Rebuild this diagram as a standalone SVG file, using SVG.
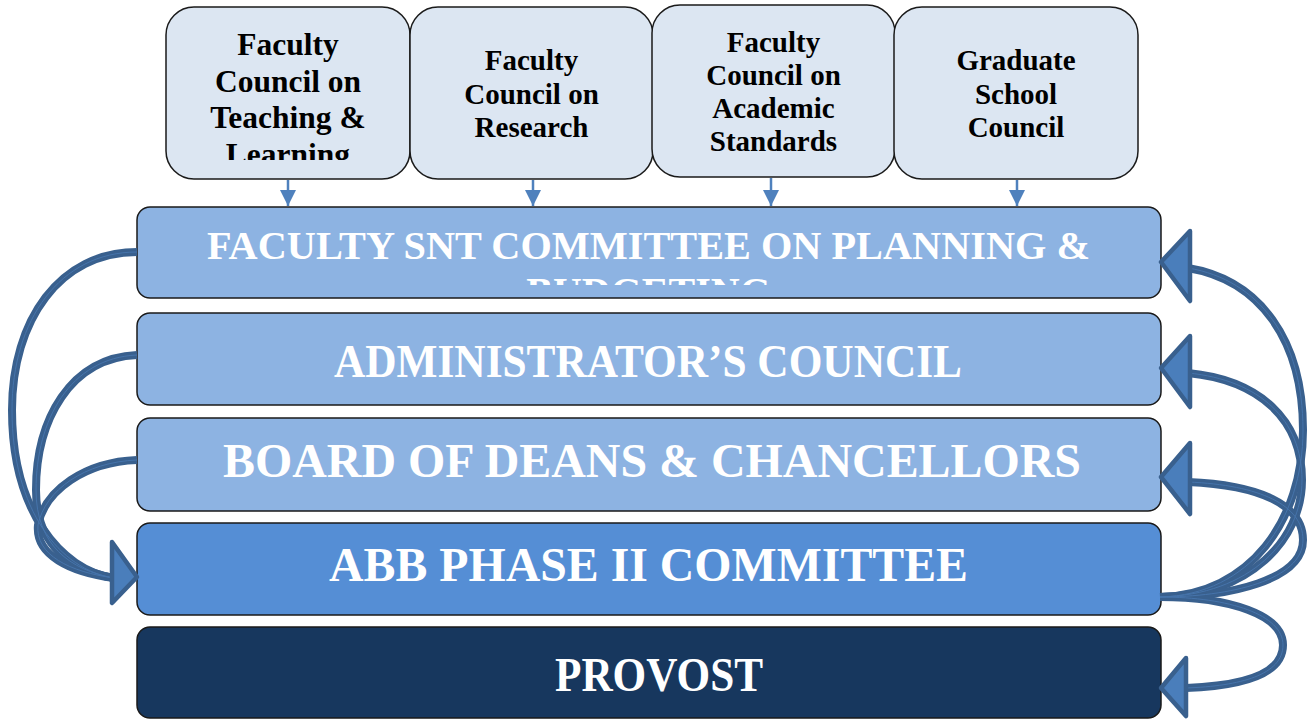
<svg xmlns="http://www.w3.org/2000/svg" width="1313" height="721" viewBox="0 0 1313 721">
  <defs>
    <style>
      .council rect { fill: #dce6f2; stroke: #1a1a1a; stroke-width: 1.5; }
      .council text { font-family: "Liberation Serif", "Times New Roman", serif; font-weight: bold; fill: #000; text-anchor: middle; }
      .bar rect { stroke: #1a1a1a; stroke-width: 1.5; }
      .bar text { font-family: "Liberation Serif", "Times New Roman", serif; font-weight: bold; fill: #fff; text-anchor: middle; }
      .light { fill: #8db3e2; }
      .mid { fill: #558ed5; }
      .dark { fill: #17375e; }
      .feed { stroke: #4f81bd; stroke-width: 2.5; fill: none; }
      .shaft { stroke: #39608e; stroke-width: 8; fill: none; stroke-linecap: butt; }
      .shaft-in { stroke: #4674ab; stroke-width: 1; fill: none; }
      .head { fill: #4a7ebb; stroke: #39608e; stroke-width: 4.5; stroke-linejoin: round; }
    </style>
    <marker id="tip" viewBox="0 0 10 10" refX="10" refY="5" markerWidth="6.5" markerHeight="6.5" markerUnits="strokeWidth" orient="auto">
      <path d="M0,0 L10,5 L0,10 Z" fill="#4f81bd"/>
    </marker>
    <clipPath id="clipTL"><rect x="166" y="0" width="244" height="160"/></clipPath>
    <clipPath id="clipPB"><rect x="137" y="200" width="1024" height="85"/></clipPath>
  </defs>

  <!-- councils feeding the planning committee -->
  <g id="council-teaching" class="council">
    <rect x="166" y="7" width="244" height="172" rx="28"/>
    <g clip-path="url(#clipTL)" font-size="31.5">
      <text x="288" y="55">Faculty</text>
      <text x="288" y="91.5">Council on</text>
      <text x="288" y="128">Teaching &amp;</text>
      <text x="288" y="164.5">Learning</text>
    </g>
  </g>
  <g id="council-research" class="council">
    <rect x="410" y="7" width="243" height="172" rx="28"/>
    <text x="531.5" y="70" font-size="29">Faculty</text>
    <text x="531.5" y="103.5" font-size="29">Council on</text>
    <text x="531.5" y="137" font-size="29">Research</text>
  </g>
  <g id="council-standards" class="council">
    <rect x="652" y="5" width="243" height="172" rx="28"/>
    <text x="773.5" y="52" font-size="29">Faculty</text>
    <text x="773.5" y="85" font-size="29">Council on</text>
    <text x="773.5" y="118" font-size="29">Academic</text>
    <text x="773.5" y="151" font-size="29">Standards</text>
  </g>
  <g id="council-graduate" class="council">
    <rect x="894" y="7" width="244" height="172" rx="28"/>
    <text x="1016" y="70" font-size="29">Graduate</text>
    <text x="1016" y="103.5" font-size="29">School</text>
    <text x="1016" y="137" font-size="29">Council</text>
  </g>

  <!-- committee bars -->
  <g id="planning" class="bar">
    <rect class="light" x="137" y="207" width="1024" height="91" rx="13"/>
    <g clip-path="url(#clipPB)" font-size="40">
      <text x="648.5" y="259" textLength="883" lengthAdjust="spacingAndGlyphs">FACULTY SNT COMMITTEE ON PLANNING &amp;</text>
      <text x="648.5" y="305">BUDGETING</text>
    </g>
  </g>
  <g id="administrators" class="bar">
    <rect class="light" x="137" y="313" width="1024" height="92" rx="13"/>
    <text x="648" y="377" font-size="47" textLength="628" lengthAdjust="spacingAndGlyphs">ADMINISTRATOR’S COUNCIL</text>
  </g>
  <g id="deans" class="bar">
    <rect class="light" x="137" y="418" width="1024" height="93" rx="13"/>
    <text x="652" y="477" font-size="47.5" textLength="858" lengthAdjust="spacingAndGlyphs">BOARD OF DEANS &amp; CHANCELLORS</text>
  </g>
  <g id="abb" class="bar">
    <rect class="mid" x="137" y="523" width="1024" height="92" rx="13"/>
    <text x="648.5" y="581" font-size="48" textLength="639" lengthAdjust="spacingAndGlyphs">ABB PHASE II COMMITTEE</text>
  </g>
  <g id="provost" class="bar">
    <rect class="dark" x="137" y="627" width="1024" height="91" rx="13"/>
    <text x="659" y="691" font-size="48" textLength="208" lengthAdjust="spacingAndGlyphs">PROVOST</text>
  </g>

  <!-- connectors -->
  <g id="connectors">
    <!-- short feed arrows from the councils -->
    <line class="feed" x1="288" y1="180" x2="288" y2="206" marker-end="url(#tip)"/>
    <line class="feed" x1="533" y1="180" x2="533" y2="206" marker-end="url(#tip)"/>
    <line class="feed" x1="771" y1="178" x2="771" y2="206" marker-end="url(#tip)"/>
    <line class="feed" x1="1017" y1="180" x2="1017" y2="206" marker-end="url(#tip)"/>

    <!-- left loops into the ABB committee -->
    <path class="shaft" d="M137,252 C60,252 12,320 12,410 C12,510 60,570 114,578"/>
    <path class="shaft" d="M137,355 C70,358 36,420 36,490 C36,545 70,570 114,578"/>
    <path class="shaft" d="M137,460 C85,462 45,490 38,525 C35,555 70,572 114,578"/>
    <path class="shaft-in" d="M137,252 C60,252 12,320 12,410 C12,510 60,570 114,578"/>
    <path class="shaft-in" d="M137,355 C70,358 36,420 36,490 C36,545 70,570 114,578"/>
    <path class="shaft-in" d="M137,460 C85,462 45,490 38,525 C35,555 70,572 114,578"/>
    <polygon class="head" points="112,542 137,577 112,603"/>

    <!-- right loops out of the ABB committee -->
    <path class="shaft" d="M1160,597 C1250,595 1303,520 1303,430 C1303,340 1260,280 1188,268"/>
    <path class="shaft" d="M1160,597 C1250,595 1302,540 1302,480 C1302,420 1260,380 1188,373"/>
    <path class="shaft" d="M1160,597 C1230,597 1303,580 1303,540 C1303,505 1260,485 1188,482"/>
    <path class="shaft" d="M1160,597 C1230,597 1283,615 1283,645 C1283,675 1240,686 1186,688"/>
    <path class="shaft-in" d="M1160,597 C1250,595 1303,520 1303,430 C1303,340 1260,280 1188,268"/>
    <path class="shaft-in" d="M1160,597 C1250,595 1302,540 1302,480 C1302,420 1260,380 1188,373"/>
    <path class="shaft-in" d="M1160,597 C1230,597 1303,580 1303,540 C1303,505 1260,485 1188,482"/>
    <path class="shaft-in" d="M1160,597 C1230,597 1283,615 1283,645 C1283,675 1240,686 1186,688"/>
    <polygon class="head" points="1190,231 1161,262 1190,301"/>
    <polygon class="head" points="1190,336 1161,368 1190,407"/>
    <polygon class="head" points="1190,443 1161,477 1190,514"/>
    <polygon class="head" points="1186,658 1161,688 1186,716"/>
  </g>
</svg>
